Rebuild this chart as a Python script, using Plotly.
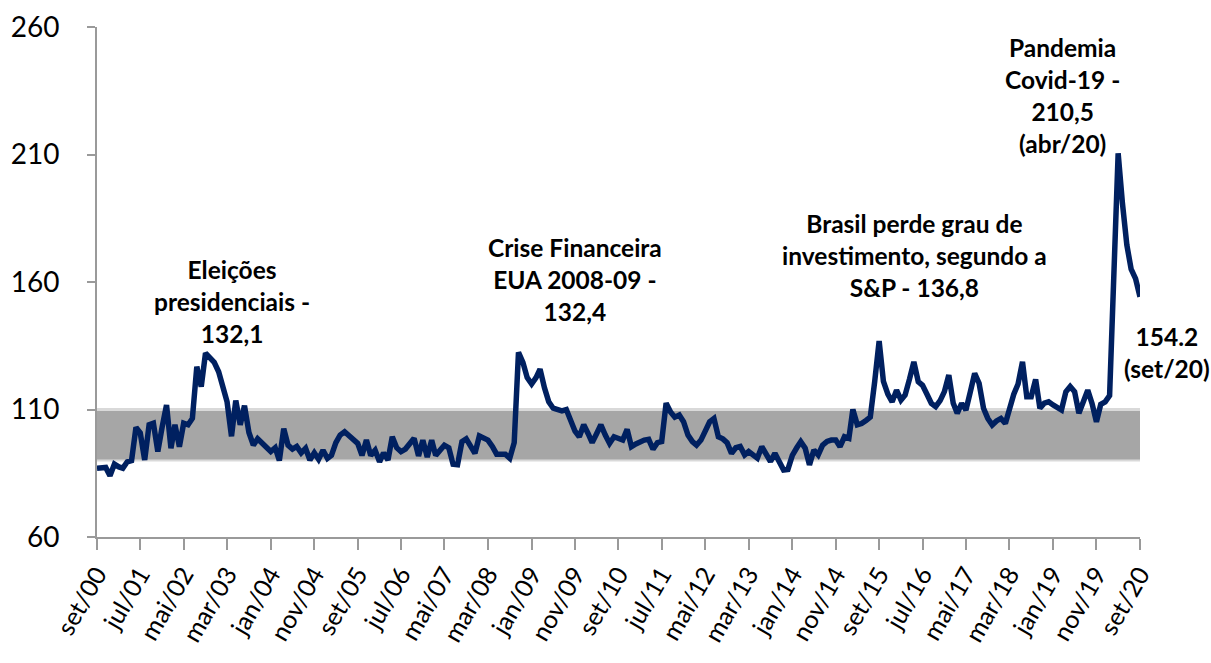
import pandas as pd
import plotly.graph_objects as go

# Monthly index values, set/00 .. set/20
iie_2000_2005 = [87, 87, 87.3, 84, 88.6, 87.5, 87, 89.5, 90, 103, 100.8, 90.2,
                 104, 104.6, 93.5, 103, 111.8, 94.8, 104, 95.4, 104.6, 104, 106.5, 126.8,
                 119, 132.1, 130, 128.5, 124.8, 118, 113, 99.5, 113.5, 104, 111.5, 101,
                 96, 98.5, 97, 95, 93.5, 95, 90, 102.5, 96, 94.5, 95.5, 93,
                 94.8, 90.2, 93, 90.5, 94, 90.8, 92, 97, 100, 101.3, 100, 98.5]
iie_2005_2010 = [96.7, 92, 98, 92, 94, 89.5, 93, 90.2, 99.3, 95, 93.5, 94.5,
                 96.7, 98.7, 91.8, 98, 91.4, 98, 92, 94.5, 96, 95, 88.5, 88.3,
                 97.4, 98.5, 96, 92.8, 99.6, 99, 98, 95.5, 92.5, 92.5, 92.5, 90.9,
                 97, 132.4, 128.5, 122.5, 120, 122.5, 125.8, 118.5, 113, 110.5, 109.8, 109.5,
                 110, 106, 101.5, 99.3, 104, 100.5, 97, 100.5, 104, 100, 96.7, 99.3]
iie_2010_2015 = [98.5, 98, 102.2, 95.4, 96.5, 97.4, 98, 98.3, 94.4, 97, 97.4, 112.5,
                 109, 107, 107.8, 105.2, 100, 97.4, 96, 98, 102, 105.2, 106.5, 99.3,
                 98.5, 97, 92.8, 95, 95.5, 92.2, 93.5, 92, 90.9, 95.4, 92, 89.6,
                 92.8, 89.5, 86.3, 86.5, 92, 95, 97.4, 94.8, 88.3, 94.1, 92.2, 96,
                 97.5, 98, 98, 95.4, 99.3, 98.7, 110, 104, 104.5, 105.7, 107, 121]
iie_2015_2020 = [136.8, 121, 116, 113, 117.6, 113.7, 115.7, 122, 128.7, 120.9, 119.5, 116,
                 112.4, 111.1, 113.5, 117, 123.5, 112.4, 108.5, 112.4, 109.8, 117, 124.2, 120.3,
                 110.5, 106.5, 103.9, 105.5, 106.5, 104.5, 111, 116, 120, 128.7, 115, 115,
                 121.8, 110.5, 112.5, 113, 111.8, 111, 109.8, 117, 119, 117, 108.5, 113,
                 117.6, 112.4, 105.2, 112, 113, 115.5, 167.1, 210.5, 190.9, 174.5, 165, 161.3,
                 154.2]

values = iie_2000_2005 + iie_2005_2010 + iie_2010_2015 + iie_2015_2020
dates = pd.date_range("2000-09-01", periods=len(values), freq="MS")

tick_labels = ["set/00", "jul/01", "mai/02", "mar/03", "jan/04", "nov/04", "set/05",
               "jul/06", "mai/07", "mar/08", "jan/09", "nov/09", "set/10", "jul/11",
               "mai/12", "mar/13", "jan/14", "nov/14", "set/15", "jul/16", "mai/17",
               "mar/18", "jan/19", "nov/19", "set/20"]
tick_dates = list(dates[::10])

band_low = 90
band_high = 110

FONT = "Lato"

fig = go.Figure()
fig.add_trace(go.Scatter(x=[dates[0], dates[-1]], y=[band_low, band_low], mode="lines",
                         line=dict(color="#D9D9D9", width=2), hoverinfo="skip", showlegend=False))
fig.add_trace(go.Scatter(x=[dates[0], dates[-1]], y=[band_high, band_high], mode="lines",
                         fill="tonexty", fillcolor="#A6A6A6",
                         line=dict(color="#D9D9D9", width=3), hoverinfo="skip", showlegend=False))
fig.add_trace(go.Scatter(x=dates, y=values, mode="lines",
                         line=dict(color="#002060", width=5.5), showlegend=False, cliponaxis=False))

ann_font = dict(family=FONT, size=24.5, color="black")
annotations = [
    ("<b>Eleições<br>presidenciais -<br>132,1</b>", 0.1296, 152.5),
    ("<b>Crise Financeira<br>EUA 2008-09 -<br>132,4</b>", 0.4584, 160.8),
    ("<b>Brasil perde grau de<br>investimento, segundo a<br>S&P - 136,8</b>", 0.7842, 170.2),
    ("<b>Pandemia<br>Covid-19 -<br>210,5<br>(abr/20)</b>", 0.9255, 233.0),
    ("<b>154.2<br>(set/20)</b>", 1.0255, 132.5),
]
for text, xp, yv in annotations:
    fig.add_annotation(text=text, x=xp, xref="paper", y=yv, yref="y", showarrow=False,
                       font=ann_font, align="center", xanchor="center", yanchor="middle")

fig.update_layout(
    width=1211, height=663,
    margin=dict(l=97, r=71, t=27, b=126),
    plot_bgcolor="white", paper_bgcolor="white",
    font=dict(family=FONT, color="black"),
)
fig.update_xaxes(range=[dates[0], dates[-1]], tickvals=tick_dates, ticktext=tick_labels,
                 tickangle=-60, tickfont=dict(family=FONT, size=25, color="black"),
                 showgrid=False, showline=True, linecolor="#9A9A9A", linewidth=2,
                 ticks="outside", ticklen=11, tickcolor="#9A9A9A", tickwidth=2,
                 zeroline=False, automargin=False)
fig.update_yaxes(range=[60, 260], tickvals=[60, 110, 160, 210, 260],
                 tickfont=dict(family=FONT, size=28, color="black"),
                 showgrid=False, showline=True, linecolor="#9A9A9A", linewidth=2,
                 ticks="outside", ticklen=8, tickcolor="#9A9A9A", tickwidth=2,
                 ticklabelstandoff=22, zeroline=False, automargin=False)

fig.write_html("out.html", config={"displayModeBar": False})

# remove default page margins so the figure fills the window exactly
with open("out.html", "r", encoding="utf-8") as f:
    html = f.read()
html = html.replace("<body>", '<body style="margin:0;padding:0;overflow:hidden">', 1)
with open("out.html", "w", encoding="utf-8") as f:
    f.write(html)
